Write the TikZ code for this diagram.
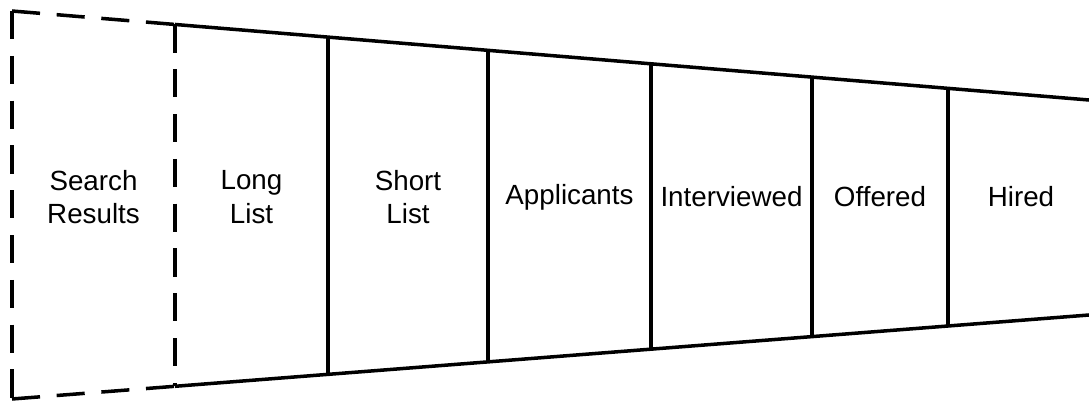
\documentclass[tikz,border=0pt]{standalone}
\usepackage{fontspec}
\setmainfont{Liberation Sans}
\usetikzlibrary{calc}

\begin{document}
\begin{tikzpicture}[
  x=0.02cm,y=-0.02cm,
  edge/.style={line width=2pt,black,line cap=butt},
  dashedge/.style={edge,dash pattern=on 16pt off 9.5pt},
  stage/.style={align=center,inner sep=0pt,font=\fontsize{15.8}{19.2}\selectfont}
]
  \useasboundingbox (0,0) rectangle (1089,402);
  % outer corners of the funnel
  \coordinate (tl) at (12,11);
  \coordinate (bl) at (12,399);
  \coordinate (tr) at (1089,100);
  \coordinate (br) at (1089,315);
  % stage borders on the top and bottom edges
  \foreach \x/\n in {175/a,328/b,488/c,651/d,812/e,948/f} {
    \coordinate (t\n) at ($(tl)!{(\x-12)/1077}!(tr)$);
    \coordinate (b\n) at ($(bl)!{(\x-12)/1077}!(br)$);
  }
  % dashed search results part
  \draw[dashedge] (tl) -- (ta);
  \draw[dashedge] (tl) -- (bl);
  \draw[dashedge] (bl) -- (ba);
  \draw[dashedge] (ta) -- (ba);
  % solid funnel
  \draw[edge] (ta) -- (tr);
  \draw[edge] (ba) -- (br);
  \foreach \n in {b,c,d,e,f}
    \draw[edge] (t\n) -- (b\n);

  \node[stage] (search) at (93.5,197) {Search\\Results};
  \node[stage] (long) at (251.5,197) {Long\\List};
  \node[stage] (short) at (408,197) {Short\\List};
  \node[stage] (appl) at (569.5,197) {Applicants};
  \node[stage] (interv) at (731.5,197) {Interviewed};
  \node[stage] (offer) at (880,197) {Offered};
  \node[stage] (hired) at (1021,197) {Hired};
\end{tikzpicture}
\end{document}
